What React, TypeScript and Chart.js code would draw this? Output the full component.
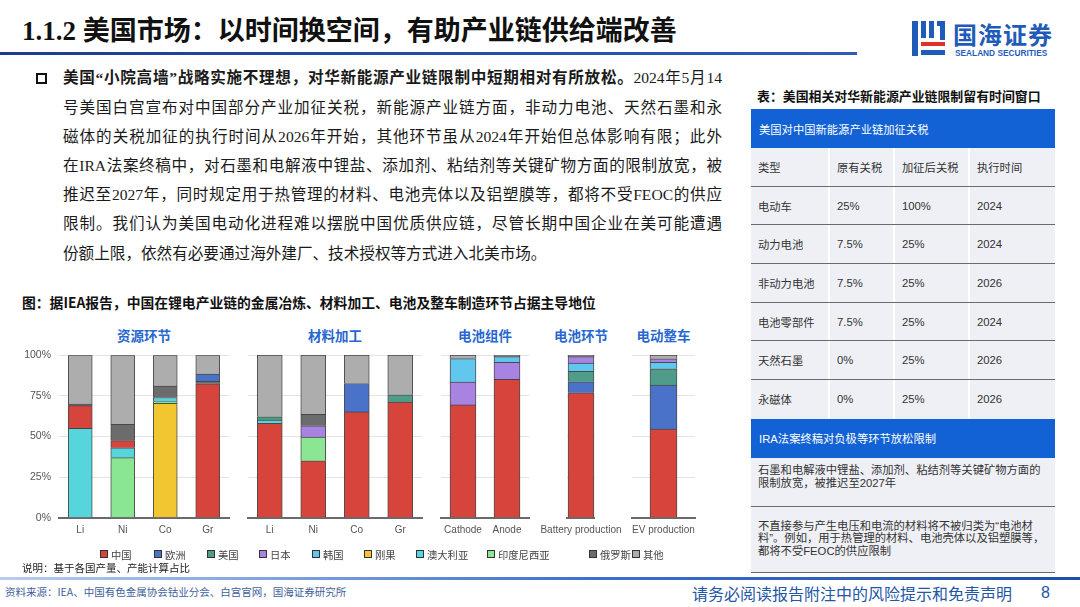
import React, { useEffect, useRef } from 'react';
import { Chart, registerables } from 'chart.js';

Chart.register(...registerables);

// ---------- series (legend) ----------
const seriesNames = ['中国', '欧洲', '美国', '日本', '韩国', '刚果', '澳大利亚', '印度尼西亚', '俄罗斯', '其他'];
const seriesColors = ['#D6443C', '#4A72C8', '#4F9D89', '#A883E2', '#62C7EF', '#F1C631', '#56D6DC', '#8AE692', '#6C6C6C', '#ADADAD'];

// ---------- 资源环节 (stack order = key order, bottom to top) ----------
const resourceLabels = ['Li', 'Ni', 'Co', 'Gr'];
const resourceShares: Record<string, number[]> = {
  刚果: [0, 0, 70.5, 0],
  印度尼西亚: [0, 37, 1, 0],
  澳大利亚: [55, 6, 2.5, 0],
  中国: [14, 4.5, 0, 82.5],
  俄罗斯: [1, 10, 7, 1.5],
  欧洲: [0, 0, 0, 4.5],
  其他: [30, 42.5, 19, 11.5],
};

// ---------- 材料加工 ----------
const materialLabels = ['Li', 'Ni', 'Co', 'Gr'];
const materialShares: Record<string, number[]> = {
  中国: [58, 35, 65, 71],
  印度尼西亚: [0, 14.5, 0, 0],
  澳大利亚: [2, 0, 0, 0],
  美国: [2, 0, 0, 4.5],
  欧洲: [0, 0, 17.5, 0],
  日本: [0, 7, 0, 0],
  俄罗斯: [0, 7, 0, 0],
  其他: [38, 36.5, 17.5, 24.5],
};

// ---------- 电池组件 ----------
const componentLabels = ['Cathode', 'Anode'];
const componentShares: Record<string, number[]> = {
  中国: [69.3, 85],
  日本: [14, 10.5],
  韩国: [14.5, 3.5],
  其他: [2.2, 1],
};

// ---------- 电池环节 ----------
const batteryLabels = ['Battery production'];
const batteryShares: Record<string, number[]> = {
  中国: [76.8],
  欧洲: [6.7],
  美国: [6.5],
  韩国: [5],
  日本: [4],
  其他: [1],
};

// ---------- 电动整车 ----------
const evLabels = ['EV production'];
const evShares: Record<string, number[]> = {
  中国: [54.5],
  欧洲: [27],
  美国: [10],
  韩国: [4],
  日本: [2.2],
  其他: [2.3],
};

const yTicks = [0, 25, 50, 75, 100];

// ---------- table ----------
const tariffHead = ['类型', '原有关税', '加征后关税', '执行时间'];
const tariffTypes = ['电动车', '动力电池', '非动力电池', '电池零部件', '天然石墨', '永磁体'];
const tariffBefore = ['25%', '7.5%', '7.5%', '7.5%', '0%', '0%'];
const tariffAfter = ['100%', '25%', '25%', '25%', '25%', '25%'];
const tariffYear = ['2024', '2024', '2026', '2024', '2026', '2026'];

const paragraphLines = [
  '号美国白宫宣布对中国部分产业加征关税，新能源产业链方面，非动力电池、天然石墨和永',
  '磁体的关税加征的执行时间从2026年开始，其他环节虽从2024年开始但总体影响有限；此外',
  '在IRA法案终稿中，对石墨和电解液中锂盐、添加剂、粘结剂等关键矿物方面的限制放宽，被',
  '推迟至2027年，同时规定用于热管理的材料、电池壳体以及铝塑膜等，都将不受FEOC的供应',
  '限制。我们认为美国电动化进程难以摆脱中国优质供应链，尽管长期中国企业在美可能遭遇',
  '份额上限，依然有必要通过海外建厂、技术授权等方式进入北美市场。',
];

const FONT_CJK = "'Noto Sans CJK SC', 'Liberation Sans', sans-serif";
const FONT_LATIN = "'Liberation Sans', 'Noto Sans CJK SC', sans-serif";
const FONT_BODY = "'Liberation Serif', 'Noto Sans CJK SC', serif";

const CHART_TOP = 345;
const CHART_H = 208;
const Y_AXIS_SHIFT = 4.5;

type FacetProps = {
  title: string;
  labels: string[];
  shares: Record<string, number[]>;
  plotLeft: number;
  plotRight: number;
  barWidth: number;
  showY: boolean;
};

function Facet({ title, labels, shares, plotLeft, plotRight, barWidth, showY }: FacetProps) {
  const ref = useRef<HTMLCanvasElement>(null);
  const padL = showY ? 0 : 40;
  const yW = showY ? 49 : 0;
  const padR = 40;
  const left = plotLeft - yW - padL;
  const width = plotRight - plotLeft + yW + padL + padR;
  const top = showY ? CHART_TOP - Y_AXIS_SHIFT : CHART_TOP;
  const height = showY ? CHART_H + Y_AXIS_SHIFT : CHART_H;

  useEffect(() => {
    const names = Object.keys(shares);
    const chart = new Chart(ref.current as HTMLCanvasElement, {
      type: 'bar',
      data: {
        labels,
        datasets: names.map((name) => ({
          label: name,
          data: shares[name].map((v) => (v === 0 ? null : v)),
          backgroundColor: seriesColors[seriesNames.indexOf(name)],
          borderColor: 'rgba(45,45,45,0.85)',
          borderWidth: 1,
          barThickness: barWidth,
        })),
      },
      options: {
        responsive: false,
        animation: false,
        layout: { padding: { top: 10, bottom: 9.3, left: padL, right: padR } },
        plugins: { legend: { display: false }, tooltip: { enabled: false }, title: { display: false } },
        scales: {
          x: {
            stacked: true,
            grid: { display: false, drawTicks: false },
            border: { display: true, color: '#6a6a6a', width: 2 },
            ticks: {
              color: '#555',
              font: { size: 10, family: FONT_LATIN },
              padding: 7,
              maxRotation: 0,
              minRotation: 0,
              autoSkip: false,
            },
          },
          y: {
            stacked: true,
            min: 0,
            max: 100,
            afterBuildTicks: (scale: any) => {
              scale.ticks = yTicks.map((v) => ({ value: v }));
            },
            afterFit: (scale: any) => {
              scale.width = yW;
            },
            ticks: {
              display: showY,
              color: '#555',
              font: { size: 10.5, family: FONT_LATIN },
              padding: 8,
              callback: (v: any) => v + '%',
            },
            grid: { color: '#e3e3e3', lineWidth: 1, drawTicks: false },
            border: { display: false },
          },
        },
      },
    });
    return () => chart.destroy();
  }, []);

  return (
    <>
      <div
        style={{
          position: 'absolute',
          left: (plotLeft + plotRight) / 2 - 60,
          width: 120,
          top: 325,
          textAlign: 'center',
          fontSize: 13.5,
          fontWeight: 700,
          color: '#2767cf',
          lineHeight: '20px',
          fontFamily: FONT_CJK,
        }}
      >
        {title}
      </div>
      <canvas
        ref={ref}
        width={width}
        height={height}
        style={{ position: 'absolute', left, top, width, height }}
      />
    </>
  );
}

const legendX = [100, 154, 207, 259, 312, 364, 416, 487, 589, 632];

function Legend() {
  return (
    <>
      {seriesNames.map((n, i) => (
        <div
          key={n}
          style={{
            position: 'absolute',
            left: legendX[i],
            top: 546,
            height: 16,
            display: 'flex',
            alignItems: 'center',
            fontSize: 10.3,
            color: '#444',
            whiteSpace: 'nowrap',
            fontFamily: FONT_CJK,
          }}
        >
          <span
            style={{
              display: 'inline-block',
              width: 6,
              height: 6,
              background: seriesColors[i],
              border: '1px solid #333',
              marginRight: 3,
            }}
          />
          {n}
        </div>
      ))}
    </>
  );
}

function Logo() {
  const blue = '#1f5bb8';
  return (
    <>
      <div style={{ position: 'absolute', left: 912, top: 21, width: 6, height: 35, background: blue }} />
      <div style={{ position: 'absolute', left: 921, top: 21, width: 5, height: 17, background: blue }} />
      <div style={{ position: 'absolute', left: 929, top: 21, width: 5, height: 17, background: blue }} />
      <div style={{ position: 'absolute', left: 937, top: 21, width: 8, height: 5, background: blue }} />
      <div style={{ position: 'absolute', left: 940, top: 26, width: 5, height: 14, background: blue }} />
      <div style={{ position: 'absolute', left: 921, top: 42, width: 24, height: 4, background: '#e0312b' }} />
      <div style={{ position: 'absolute', left: 921, top: 50, width: 24, height: 5, background: blue }} />
      <div
        style={{
          position: 'absolute',
          left: 953,
          top: 20,
          fontSize: 24,
          fontWeight: 700,
          color: blue,
          letterSpacing: 1,
          lineHeight: '28px',
          whiteSpace: 'nowrap',
          fontFamily: FONT_CJK,
        }}
      >
        国海证券
      </div>
      <div
        style={{
          position: 'absolute',
          left: 955,
          top: 48,
          fontSize: 8.3,
          fontWeight: 700,
          color: blue,
          lineHeight: '10px',
          whiteSpace: 'nowrap',
          fontFamily: FONT_LATIN,
        }}
      >
        SEALAND SECURITIES
      </div>
    </>
  );
}

function TariffTable() {
  const colW = [77, 65, 75, 87];
  const rowBg = '#eef0f6';
  const sep = '1.5px solid #6a6a6a';
  const cellStyle = (ci: number): React.CSSProperties => ({
    width: colW[ci],
    boxSizing: 'border-box',
    paddingLeft: 7,
    display: 'flex',
    alignItems: 'center',
    background: rowBg,
    borderLeft: ci === 0 ? 'none' : '2px solid #fff',
  });
  const rows: string[][] = [tariffHead].concat(
    tariffTypes.map((t, i) => [t, tariffBefore[i], tariffAfter[i], tariffYear[i]])
  );
  return (
    <div style={{ position: 'absolute', left: 751, top: 109, width: 304, fontSize: 11.3, color: '#333', fontFamily: FONT_LATIN }}>
      <div
        style={{
          height: 39,
          background: '#1262d6',
          color: '#fff',
          display: 'flex',
          alignItems: 'center',
          paddingLeft: 8,
          boxSizing: 'border-box',
        }}
      >
        美国对中国新能源产业链加征关税
      </div>
      {rows.map((r, ri) => (
        <div
          key={ri}
          style={{
            height: 38.7,
            display: 'flex',
            boxSizing: 'border-box',
            borderBottom: ri < rows.length - 1 ? sep : 'none',
          }}
        >
          {r.map((c, ci) => (
            <div key={ci} style={cellStyle(ci)}>
              {c}
            </div>
          ))}
        </div>
      ))}
      <div
        style={{
          height: 39,
          background: '#1262d6',
          color: '#fff',
          display: 'flex',
          alignItems: 'center',
          paddingLeft: 8,
          boxSizing: 'border-box',
        }}
      >
        IRA法案终稿对负极等环节放松限制
      </div>
      <div
        style={{
          height: 49,
          background: rowBg,
          borderBottom: sep,
          boxSizing: 'border-box',
          padding: '6px 8px 0 7px',
          lineHeight: '13px',
        }}
      >
        石墨和电解液中锂盐、添加剂、粘结剂等关键矿物方面的
        <br />
        限制放宽，被推迟至2027年
      </div>
      <div
        style={{
          height: 66,
          background: rowBg,
          borderBottom: sep,
          boxSizing: 'border-box',
          padding: '13px 6px 0 7px',
          lineHeight: '12.5px',
        }}
      >
        不直接参与产生电压和电流的材料将不被归类为“电池材
        <br />
        料”。例如，用于热管理的材料、电池壳体以及铝塑膜等，
        <br />
        都将不受FEOC的供应限制
      </div>
    </div>
  );
}

export default function App() {
  return (
    <div
      style={{
        position: 'fixed',
        left: 0,
        top: 0,
        width: 1080,
        height: 607,
        background: '#fff',
        overflow: 'hidden',
        fontFamily: FONT_CJK,
        color: '#222',
      }}
    >
      {/* header */}
      <div
        style={{
          position: 'absolute',
          left: 22,
          top: 13,
          fontSize: 27,
          fontWeight: 700,
          fontFamily: FONT_BODY,
          color: '#111',
          whiteSpace: 'nowrap',
          lineHeight: '36px',
        }}
      >
        1.1.2 美国市场：以时间换空间，有助产业链供给端改善
      </div>
      <div
        style={{
          position: 'absolute',
          left: 0,
          top: 52,
          width: 857,
          height: 3,
          background: 'linear-gradient(90deg,#1c3d8e,#2b5bbb)',
        }}
      />
      <Logo />

      {/* paragraph */}
      <div
        style={{
          position: 'absolute',
          left: 36,
          top: 73,
          width: 7,
          height: 7,
          border: '2px solid #111',
        }}
      />
      <div
        style={{
          position: 'absolute',
          left: 63,
          top: 63.4,
          width: 659,
          fontSize: 15.6,
          lineHeight: '29.2px',
          fontFamily: FONT_BODY,
          color: '#1a1a1a',
        }}
      >
        <div style={{ textAlign: 'justify', textAlignLast: 'justify', whiteSpace: 'nowrap' }}>
          <span style={{ fontWeight: 700 }}>
            美国“小院高墙”战略实施不理想，对华新能源产业链限制中短期相对有所放松。
          </span>
          2024年5月14
        </div>
        {paragraphLines.map((l, i) => (
          <div
            key={i}
            style={{
              textAlign: 'justify',
              textAlignLast: i < paragraphLines.length - 1 ? 'justify' : 'left',
            }}
          >
            {l}
          </div>
        ))}
      </div>

      {/* chart caption */}
      <div
        style={{
          position: 'absolute',
          left: 22,
          top: 293,
          fontSize: 13.8,
          fontWeight: 700,
          lineHeight: '18px',
          whiteSpace: 'nowrap',
          color: '#111',
        }}
      >
        图：据IEA报告，中国在锂电产业链的金属冶炼、材料加工、电池及整车制造环节占据主导地位
      </div>

      <Facet title="资源环节" labels={resourceLabels} shares={resourceShares} plotLeft={59} plotRight={229} barWidth={24} showY={true} />
      <Facet title="材料加工" labels={materialLabels} shares={materialShares} plotLeft={248} plotRight={422} barWidth={25} showY={false} />
      <Facet title="电池组件" labels={componentLabels} shares={componentShares} plotLeft={441} plotRight={529} barWidth={26} showY={false} />
      <Facet title="电池环节" labels={batteryLabels} shares={batteryShares} plotLeft={558} plotRight={604} barWidth={26} showY={false} />
      <Facet title="电动整车" labels={evLabels} shares={evShares} plotLeft={632} plotRight={695} barWidth={27} showY={false} />

      <Legend />

      <div
        style={{
          position: 'absolute',
          left: 22,
          top: 561,
          fontSize: 10.5,
          lineHeight: '14px',
          color: '#222',
          whiteSpace: 'nowrap',
        }}
      >
        说明：基于各国产量、产能计算占比
      </div>

      {/* table */}
      <div
        style={{
          position: 'absolute',
          left: 757,
          top: 87,
          fontSize: 12.9,
          fontWeight: 700,
          lineHeight: '18px',
          whiteSpace: 'nowrap',
          color: '#111',
        }}
      >
        表：美国相关对华新能源产业链限制留有时间窗口
      </div>
      <TariffTable />

      {/* footer */}
      <div
        style={{
          position: 'absolute',
          left: 0,
          top: 577,
          width: 1080,
          height: 3,
          background: 'linear-gradient(90deg,#b9cdee,#3d6fcf 55%,#1e4ea6)',
        }}
      />
      <div
        style={{
          position: 'absolute',
          left: 5,
          top: 585,
          fontSize: 10.5,
          lineHeight: '14px',
          color: '#3f5f9c',
          whiteSpace: 'nowrap',
        }}
      >
        资料来源：IEA、中国有色金属协会钴业分会、白宫官网，国海证券研究所
      </div>
      <div
        style={{
          position: 'absolute',
          left: 692,
          top: 582,
          fontSize: 16,
          lineHeight: '22px',
          color: '#2356a6',
          whiteSpace: 'nowrap',
        }}
      >
        请务必阅读报告附注中的风险提示和免责声明
      </div>
      <div
        style={{
          position: 'absolute',
          left: 1041,
          top: 582,
          fontSize: 16,
          lineHeight: '22px',
          color: '#2356a6',
          fontFamily: FONT_LATIN,
        }}
      >
        8
      </div>
    </div>
  );
}
